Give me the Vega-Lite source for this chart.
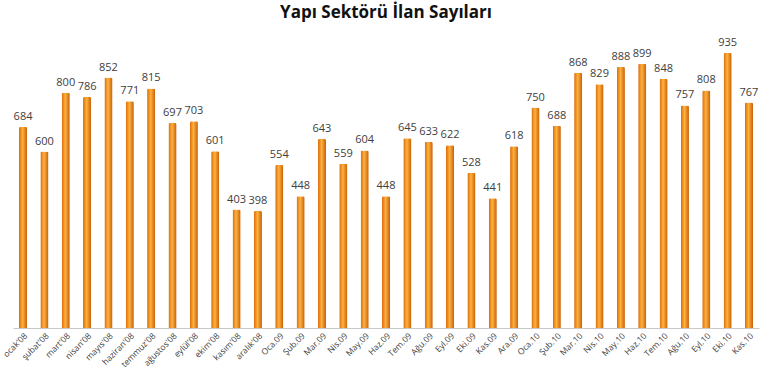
{
  "$schema": "https://vega.github.io/schema/vega-lite/v6.json",
  "width": 746,
  "height": 294,
  "autosize": {"type": "none"},
  "padding": {"left": 13, "top": 34, "right": 1, "bottom": 49},
  "background": "white",
  "title": {"text": "Yapı Sektörü İlan Sayıları", "font": "Open Sans", "fontSize": 17, "fontWeight": "bold", "color": "#111111", "offset": 12, "anchor": "middle"},
  "data": {"values": [
    {"ay": "ocak'08", "v": 684}, {"ay": "şubat'08", "v": 600}, {"ay": "mart'08", "v": 800}, {"ay": "nisan'08", "v": 786},
    {"ay": "mayıs'08", "v": 852}, {"ay": "haziran'08", "v": 771}, {"ay": "temmuz'08", "v": 815}, {"ay": "ağustos'08", "v": 697},
    {"ay": "eylül'08", "v": 703}, {"ay": "ekim'08", "v": 601}, {"ay": "kasım'08", "v": 403}, {"ay": "aralık'08", "v": 398},
    {"ay": "Oca.09", "v": 554}, {"ay": "Şub.09", "v": 448}, {"ay": "Mar.09", "v": 643}, {"ay": "Nis.09", "v": 559},
    {"ay": "May.09", "v": 604}, {"ay": "Haz.09", "v": 448}, {"ay": "Tem.09", "v": 645}, {"ay": "Ağu.09", "v": 633},
    {"ay": "Eyl.09", "v": 622}, {"ay": "Eki.09", "v": 528}, {"ay": "Kas.09", "v": 441}, {"ay": "Ara.09", "v": 618},
    {"ay": "Oca.10", "v": 750}, {"ay": "Şub.10", "v": 688}, {"ay": "Mar.10", "v": 868}, {"ay": "Nis.10", "v": 829},
    {"ay": "May.10", "v": 888}, {"ay": "Haz.10", "v": 899}, {"ay": "Tem.10", "v": 848}, {"ay": "Ağu.10", "v": 757},
    {"ay": "Eyl.10", "v": 808}, {"ay": "Eki.10", "v": 935}, {"ay": "Kas.10", "v": 767}
  ]},
  "encoding": {
    "x": {"field": "ay", "type": "nominal", "sort": null,
      "scale": {"paddingInner": 0.62, "paddingOuter": 0.28},
      "axis": {"title": null, "labelAngle": -45, "labelFont": "Open Sans", "labelFontSize": 8.5, "labelColor": "#404040",
               "ticks": false, "domainColor": "#c8c8c8", "labelPadding": 3, "labelOverlap": false}},
    "y": {"field": "v", "type": "quantitative", "scale": {"domain": [0, 1000]}, "axis": null}
  },
  "layer": [
    {"mark": {"type": "bar", "cornerRadiusTopLeft": 1.5, "cornerRadiusTopRight": 1.5,
      "color": {"gradient": "linear", "x1": 0, "y1": 0, "x2": 1, "y2": 0,
        "stops": [{"offset": 0, "color": "#d96a0c"}, {"offset": 0.45, "color": "#ffb13d"}, {"offset": 1, "color": "#c7600a"}]}}},
    {"mark": {"type": "text", "dy": -10, "font": "Open Sans", "fontSize": 11, "color": "#404040"},
      "encoding": {"text": {"field": "v", "type": "quantitative"}}}
  ],
  "config": {"view": {"stroke": null}}
}
